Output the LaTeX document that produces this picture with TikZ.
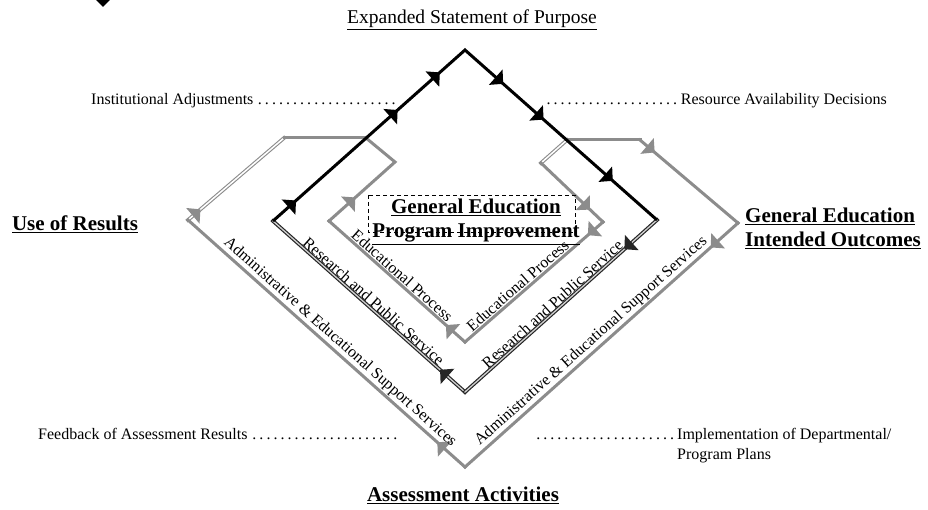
\documentclass[tikz,border=0pt]{standalone}
\usepackage{fontspec}
\setmainfont{Liberation Serif}
\usetikzlibrary{arrows.meta,decorations.markings}
\definecolor{ScanGrey}{HTML}{8C8C8C}
\newcommand{\lblsize}{\fontsize{16}{20}\selectfont}
\newcommand{\headsize}{\fontsize{21}{24}\selectfont\bfseries}

\begin{document}
\begin{tikzpicture}[x=1pt, y=-1pt,
  loopline/.style={line width=3pt, draw=black, line join=miter},
  backline/.style={line width=1.2pt, draw=black!85, double=ScanGrey!40,
                   double distance=1.3pt, line cap=rect},
  greyline/.style={line width=3pt, draw=ScanGrey, line cap=rect},
  greydouble/.style={line width=1.1pt, draw=ScanGrey, double=white,
                     double distance=1.5pt, line cap=rect},
  lbl/.style={font=\lblsize, inner sep=0pt},
  seglbl/.style={font=\lblsize, sloped, above, inner sep=1pt},
  head/.style={font=\headsize, align=center, inner sep=0pt},
  fwd/.style={postaction={decorate, decoration={markings,
      mark=at position #1 with {\arrow{Triangle[length=10pt, width=20pt]}}}}},
  bwd/.style={postaction={decorate, decoration={markings,
      mark=at position #1 with {\arrowreversed{Triangle[length=10pt, width=20pt]}}}}}
]
\useasboundingbox (0,0) rectangle (928,510);

\coordinate (bT) at (465,50);
\coordinate (bL) at (273,221);
\coordinate (bR) at (657,220);
\coordinate (bB) at (465,392);
\coordinate (oL) at (188,220);
\coordinate (oB) at (465,467);
\coordinate (oR) at (738,223);
\coordinate (oTL) at (284,138);
\coordinate (oTR) at (640,140);
\coordinate (jL) at (366,138);
\coordinate (jR) at (567,140);
\coordinate (iL) at (329,221);
\coordinate (iB) at (465,342);
\coordinate (iR) at (603,222);
\coordinate (iTL) at (395,162);
\coordinate (iTR) at (541,163);

% support services loop
\draw[greydouble, fwd=0.13] (oL) -- (oTL);
\draw[greyline] (oTL) -- (jL);
\draw[greyline] (jR) -- (oTR);
\draw[greyline, fwd=0.15] (oTR) -- (oR);
\draw[greyline, bwd=0.9] (oL) -- node[seglbl, pos=.525] (adminL)
  {Administrative \& Educational Support Services} (oB);
\draw[greyline, bwd=0.9] (oB) -- node[seglbl, pos=.486] (adminR)
  {Administrative \& Educational Support Services} (oR);

% educational process loop
\draw[greyline, fwd=0.28] (iL) -- (iTL) -- (jL);
\draw[greydouble] (jR) -- (iTR);
\draw[greyline, fwd=0.79] (iTR) -- (iR);
\draw[greyline, bwd=0.86] (iL) -- node[seglbl, pos=.5] (eduL)
  {Educational Process} (iB);
\draw[greyline, bwd=0.89] (iB) -- node[seglbl, pos=.42] (eduR)
  {Educational Process} (iR);

% research and public service loop
\draw[backline, bwd=0.87] (bL) -- node[seglbl, pos=.5] (resL)
  {Research and Public Service} (bB);
\draw[backline, bwd=0.83] (bB) -- node[seglbl, pos=.48] (resR)
  {Research and Public Service} (bR);
\draw[loopline, fwd=0.06, fwd=0.325, fwd=0.435, fwd=0.6, fwd=0.705, fwd=0.885]
  (bL) -- (bT) -- (bR);

\node[head, font=\fontsize{19.5}{23}\selectfont] (purpose) at (472,20)
  {\underline{Expanded Statement of Purpose}};
\node[head] (useres) at (75,224) {\underline{Use of Results}};
\node[head, anchor=west, align=left] (outcomes) at (745,228)
  {\underline{General Education}\\\underline{Intended Outcomes}};
\node[head] (improve) at (476,222)
  {\underline{General Education}\\\underline{Program Improvement}};
\draw[thin, dash pattern=on 4pt off 3pt] (368,195) rectangle (575,232);
\node[head] (assess) at (463,495) {\underline{Assessment Activities}};

\node[lbl, anchor=base west] (instadj) at (91,105)
  {\makebox[309pt][l]{Institutional Adjustments\dotfill}};
\node[lbl, anchor=base east] (resource) at (887,105)
  {\makebox[344pt][r]{\dotfill Resource Availability Decisions}};
\node[lbl, anchor=base west] (feedback) at (38,439)
  {\makebox[364pt][l]{Feedback of Assessment Results\dotfill}};
\node[lbl, anchor=north west, align=left] (implement) at (533,428)
  {\makebox[144pt]{\dotfill}Implementation of Departmental/\\
   \hspace*{144pt}Program Plans};

\fill (96,0) -- (110,0) -- (103,7) -- cycle;
\end{tikzpicture}
\end{document}
